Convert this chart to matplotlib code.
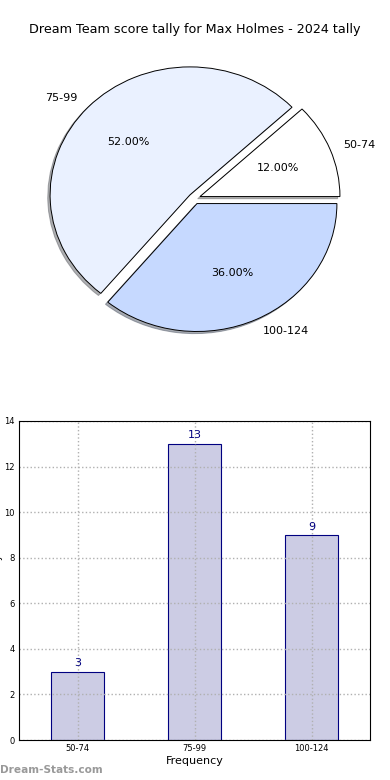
import matplotlib
matplotlib.use('Agg')
import matplotlib.pyplot as plt
import numpy as np

# score bands and how many games fell in each
bands = ['50-74', '75-99', '100-124']
counts = [3, 13, 9]
pie_colors = ['#ffffff', '#eaf1ff', '#c6d9ff']

TITLE = 'Dream Team score tally for Max Holmes - 2024 tally'

fig = plt.figure(figsize=(3.9, 7.8), dpi=100)

# pie (no equal aspect, so it comes out slightly squashed like the original)
ax1 = fig.add_axes([0.05, 0.5404, 0.897, 0.410])
ax1.pie(counts, labels=bands, colors=pie_colors, explode=[0.043] * 3,
        autopct='%1.2f%%', startangle=0,
        shadow={'ox': -0.012, 'oy': -0.012, 'shade': 0.6},
        wedgeprops={'edgecolor': 'black', 'linewidth': 0.7},
        textprops={'fontsize': 8})
ax1.set_aspect('auto')
ax1.set_xlim(-1.25, 1.25)
ax1.set_ylim(-1.25, 1.25)
ax1.axis('off')

fig.text(0.5, 1 - 30 / 780, TITLE, ha='center', va='center', fontsize=9.2)

# bar chart
ax2 = fig.add_axes([19 / 390, 1 - 740 / 780, 351 / 390, 319 / 780])
x = np.arange(len(bands))
bars = ax2.bar(x, counts, width=0.45, color='#ccccE4', edgecolor='#000080', linewidth=0.8)
for b, c in zip(bars, counts):
    ax2.text(b.get_x() + b.get_width() / 2, c + 0.15, str(c), ha='center', va='bottom',
             fontsize=8, color='#000080')

ax2.set_xlim(-0.5, 2.5)
ax2.set_ylim(0, 14)
ax2.set_xticks(x)
ax2.set_xticklabels(bands, fontsize=6)
ax2.set_yticks(range(0, 15, 2))
ax2.tick_params(axis='y', labelsize=6, length=0, pad=3)
ax2.tick_params(axis='x', length=0, pad=3)
ax2.grid(True, linestyle=':', color='#b0b0b0', linewidth=1)
ax2.set_axisbelow(False)
for s in ax2.spines.values():
    s.set_zorder(5)
ax2.set_xlabel('Frequency', fontsize=8, labelpad=2)
ax2.set_ylabel('Score Tally', fontsize=7)
ax2.yaxis.set_label_coords(-0.046, 0.5)

fig.text(0.0, 1 - 770 / 780, 'Dream-Stats.com', ha='left', va='center',
         fontsize=7.6, color='#999999', fontweight='bold')

fig.savefig('out.png', dpi=100)
